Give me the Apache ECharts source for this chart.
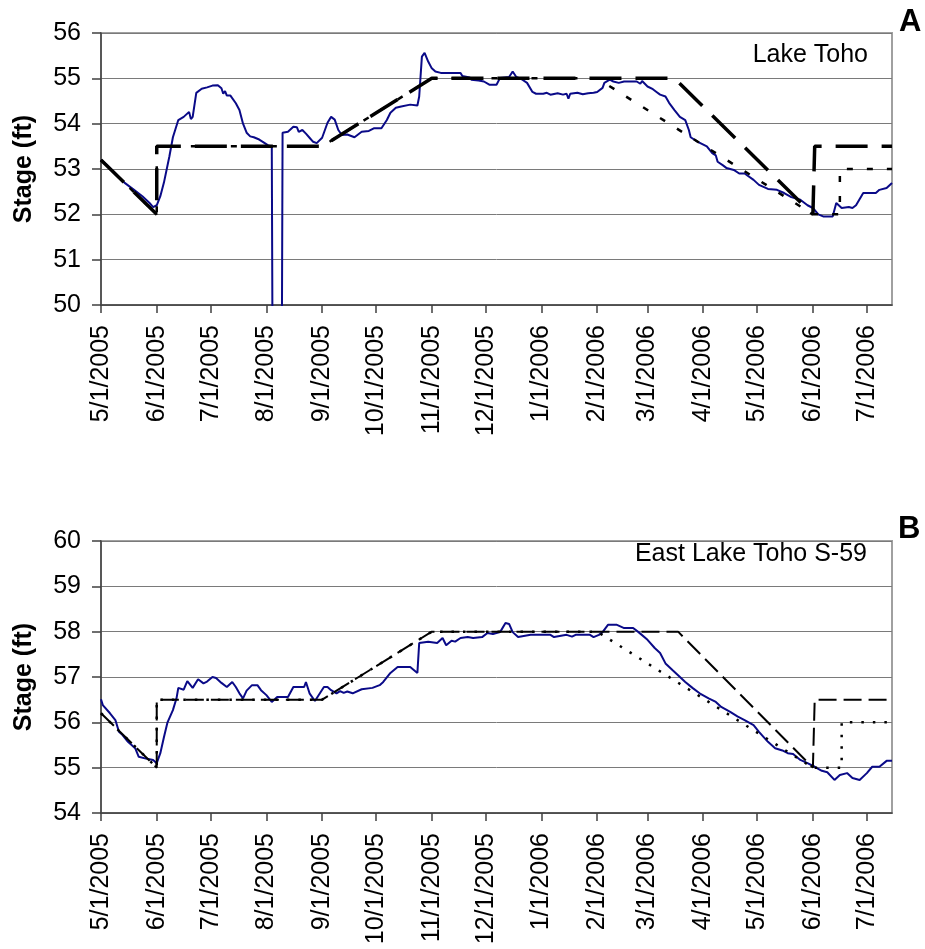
<!DOCTYPE html>
<html>
<head>
<meta charset="utf-8">
<title>Lake stage, May 2005 - July 2006</title>
<script src="https://cdn.jsdelivr.net/npm/echarts@6/dist/echarts.min.js"></script>
<style>
  html, body { margin: 0; padding: 0; background: #fff; }
  #chart { width: 925px; height: 949px; }
</style>
</head>
<body>
<div id="chart"></div>
<script>
// Month-start tick labels shared by both panels
const tickLabels = ['5/1/2005', '6/1/2005', '7/1/2005', '8/1/2005', '9/1/2005', '10/1/2005',
  '11/1/2005', '12/1/2005', '1/1/2006', '2/1/2006', '3/1/2006', '4/1/2006', '5/1/2006',
  '6/1/2006', '7/1/2006'];
const axisStartDate = '5/1/2005';
const axisEndDate = '7/15/2006';

// Panel A - Lake Toho observed stage, [day since 5/1/2005, stage ft]
const tohoObserved = [
  [0, 53.2], [3, 53.1], [8, 52.9], [13, 52.7], [18, 52.55], [23, 52.4], [27, 52.25], [29, 52.16],
  [31, 52.2], [33, 52.4], [35, 52.7], [38, 53.27], [40, 53.7], [43, 54.08], [46, 54.15], [49, 54.26],
  [50, 54.1], [51, 54.15], [53, 54.68], [56, 54.77], [59, 54.8], [62, 54.84], [65, 54.85], [67, 54.78],
  [68, 54.66], [69, 54.72], [70, 54.62], [72, 54.62], [75, 54.45], [77, 54.3], [79, 54.0], [81, 53.8],
  [83, 53.72], [85, 53.7], [88, 53.65], [90, 53.6], [93, 53.52], [95, 53.5], [95.5, 48], [100.5, 48],
  [101, 53.8], [104, 53.82], [107, 53.93], [109, 53.92], [110, 53.82], [112, 53.86], [114, 53.78],
  [116, 53.69], [118, 53.6], [119, 53.62], [120, 53.57], [123, 53.69], [126, 54.02], [128, 54.15],
  [130, 54.09], [132, 53.86], [134, 53.75], [137, 53.76], [141, 53.7], [145, 53.82], [149, 53.84],
  [152, 53.9], [156, 53.9], [159, 54.08], [161, 54.24], [164, 54.35], [167, 54.38], [172, 54.42],
  [176, 54.4], [177, 54.6], [178.5, 55.48], [180, 55.56], [182, 55.37], [184, 55.22], [186, 55.15],
  [189, 55.12], [200, 55.12], [201, 55.05], [205, 55.02], [206, 54.97], [210, 54.95], [213, 54.93],
  [216, 54.86], [220, 54.86], [222, 55.01], [227, 55.03], [229, 55.15], [231, 55.03], [234, 54.98],
  [237, 54.9], [240, 54.7], [242, 54.66], [246, 54.66], [248, 54.68], [250, 54.64], [254, 54.67],
  [257, 54.64], [259, 54.66], [260, 54.55], [261, 54.66], [265, 54.68], [268, 54.65], [271, 54.67],
  [274, 54.68], [276, 54.7], [279, 54.79], [280, 54.9], [283, 54.97], [285, 54.93], [288, 54.9],
  [291, 54.93], [295, 54.93], [298, 54.93], [300, 54.88], [301, 54.94], [304, 54.82], [307, 54.76],
  [309, 54.7], [311, 54.64], [314, 54.6], [316, 54.46], [319, 54.3], [322, 54.15], [325, 54.08],
  [327, 53.86], [328, 53.7], [332, 53.6], [337, 53.5], [340, 53.35], [342, 53.3], [343, 53.16],
  [346, 53.08], [348, 53.02], [352, 52.98], [355, 52.9], [358, 52.9], [363, 52.76], [366, 52.65],
  [371, 52.56], [376, 52.54], [380, 52.47], [384, 52.38], [389, 52.32], [393, 52.2], [396, 52.14],
  [399, 52.0], [402, 51.95], [407, 51.95], [409, 52.25], [412, 52.14], [416, 52.16], [418, 52.14],
  [420, 52.2], [424, 52.47], [431, 52.47], [433, 52.54], [437, 52.58], [440, 52.69]
];
// Panel A - schedule breakpoints [date, stage ft]
const tohoRegulation = [
  ['5/1/2005', 53.2], ['6/1/2005', 52.0], ['6/1/2005', 53.5], ['9/1/2005', 53.5], ['11/1/2005', 55.0],
  ['3/16/2006', 55.0], ['6/1/2006', 52.0], ['6/2/2006', 53.5], ['7/15/2006', 53.5]
];
const tohoInterim = [
  ['5/1/2005', 53.2], ['6/1/2005', 52.0], ['6/1/2005', 53.5], ['9/1/2005', 53.5], ['11/1/2005', 55.0],
  ['2/1/2006', 55.0], ['6/1/2006', 52.0], ['6/16/2006', 52.0], ['6/16/2006', 53.0], ['7/15/2006', 53.0]
];

// Panel B - East Lake Toho S-59 observed stage, [day since 5/1/2005, stage ft]
const eastObserved = [
  [0, 56.51], [1, 56.38], [5, 56.2], [8, 56.05], [10, 55.79], [12, 55.72], [15, 55.57], [19, 55.43],
  [21, 55.24], [25, 55.2], [29, 55.17], [31, 55.1], [33, 55.32], [35, 55.67], [37, 56.0], [40, 56.27],
  [42, 56.53], [43, 56.76], [44, 56.78], [46, 56.72], [48, 56.91], [51, 56.76], [54, 56.95], [57, 56.86],
  [59, 56.9], [62, 57.0], [64, 56.98], [67, 56.87], [70, 56.78], [73, 56.89], [75, 56.78], [77, 56.64],
  [79, 56.53], [81, 56.7], [82, 56.68], [84, 56.82], [87, 56.82], [89, 56.71], [92, 56.6], [95, 56.45],
  [98, 56.56], [104, 56.56], [107, 56.78], [113, 56.78], [114, 56.89], [116, 56.64], [119, 56.47],
  [124, 56.78], [126, 56.78], [128, 56.71], [131, 56.64], [133, 56.69], [135, 56.65], [137, 56.68],
  [140, 56.64], [145, 56.73], [151, 56.76], [155, 56.82], [157, 56.89], [161, 57.09], [165, 57.22],
  [172, 57.22], [176, 57.09], [177, 57.75], [178, 57.78], [182, 57.78], [187, 57.75], [190, 57.86],
  [192, 57.7], [195, 57.8], [197, 57.78], [200, 57.86], [204, 57.88], [207, 57.86], [212, 57.88],
  [215, 57.97], [218, 57.95], [222, 57.99], [225, 58.19], [227, 58.17], [229, 57.99], [232, 57.88],
  [239, 57.93], [250, 57.93], [252, 57.88], [259, 57.93], [262, 57.89], [264, 57.93], [272, 57.93],
  [274, 57.88], [277, 57.93], [279, 57.99], [282, 58.15], [287, 58.15], [291, 58.08], [296, 58.08],
  [299, 57.99], [304, 57.82], [308, 57.64], [311, 57.53], [314, 57.3], [318, 57.15], [321, 57.04],
  [325, 56.89], [329, 56.76], [333, 56.64], [338, 56.53], [342, 56.45], [345, 56.34], [350, 56.23],
  [354, 56.13], [358, 56.05], [363, 55.94], [366, 55.79], [371, 55.57], [375, 55.43], [379, 55.38],
  [382, 55.32], [385, 55.3], [389, 55.17], [393, 55.1], [397, 55.02], [401, 54.93], [404, 54.9],
  [408, 54.73], [411, 54.84], [415, 54.88], [418, 54.77], [422, 54.73], [426, 54.88], [429, 55.02],
  [433, 55.02], [437, 55.15], [440, 55.15]
];
// Panel B - schedule breakpoints [date, stage ft]
const eastRegulation = [
  ['5/1/2005', 56.2], ['6/1/2005', 55.0], ['6/1/2005', 56.5], ['9/1/2005', 56.5], ['11/1/2005', 58.0],
  ['3/18/2006', 58.0], ['6/1/2006', 55.0], ['6/2/2006', 56.5], ['7/15/2006', 56.5]
];
const eastInterim = [
  ['5/1/2005', 56.2], ['6/1/2005', 55.0], ['6/1/2005', 56.5], ['9/1/2005', 56.5], ['11/1/2005', 58.0],
  ['2/1/2006', 58.0], ['6/1/2006', 55.0], ['6/17/2006', 55.0], ['6/17/2006', 56.0], ['7/15/2006', 56.0]
];

const FONT = "'Liberation Sans', Arial, Helvetica, sans-serif";

// dates are placed on a day-count value axis starting at 5/1/2005
function dayOf(label) {
  const [m, d, y] = label.split('/').map(Number);
  const [m0, d0, y0] = axisStartDate.split('/').map(Number);
  return Math.round((Date.UTC(y, m - 1, d) - Date.UTC(y0, m0 - 1, d0)) / 86400000);
}
const tickDays = tickLabels.map(dayOf);
const labelByDay = {};
tickDays.forEach((d, i) => { labelByDay[d] = tickLabels[i]; });
const toPoints = rows => rows.map(([date, v]) => [dayOf(date), v]);

function xAxisFor(gridIndex) {
  return {
    type: 'value', gridIndex, min: 0, max: dayOf(axisEndDate),
    axisLine: { show: true, lineStyle: { color: '#404040', width: 1.5 } },
    axisTick: { show: true, customValues: tickDays, length: 8, inside: false,
      lineStyle: { color: '#404040', width: 1.5 } },
    axisLabel: { customValues: tickDays, rotate: 90, margin: 20, fontSize: 25, fontFamily: FONT,
      color: '#000', formatter: v => labelByDay[Math.round(v)] || '' },
    splitLine: { show: false }
  };
}
function yAxisFor(gridIndex, min, max) {
  return {
    type: 'value', gridIndex, min, max, interval: 1,
    name: 'Stage (ft)', nameLocation: 'middle', nameGap: 64, nameRotate: 90,
    nameTextStyle: { fontSize: 25, fontWeight: 'bold', fontFamily: FONT, color: '#000' },
    axisLine: { show: true, lineStyle: { color: '#404040', width: 1.5 } },
    axisTick: { show: true, length: 9, inside: false, lineStyle: { color: '#404040', width: 1.5 } },
    axisLabel: { margin: 20, fontSize: 25, fontFamily: FONT, color: '#000' },
    splitLine: { show: true, lineStyle: { color: '#7a7a7a', width: 1 } }
  };
}
function observed(idx, data) {
  return { type: 'line', xAxisIndex: idx, yAxisIndex: idx, data, showSymbol: false, symbol: 'none',
    lineStyle: { color: '#0a0a88', width: 2 }, z: 2 };
}
function schedule(idx, data, width, dash) {
  return { type: 'line', xAxisIndex: idx, yAxisIndex: idx, data: toPoints(data), showSymbol: false,
    symbol: 'none', lineStyle: { color: '#000', width, type: dash }, z: 3 };
}

const chart = echarts.init(document.getElementById('chart'));
chart.setOption({
  animation: false,
  backgroundColor: '#fff',
  grid: [
    { left: 101, right: 33, top: 33, height: 272, show: true, borderColor: '#a0a0a0', borderWidth: 2 },
    { left: 101, right: 33, top: 541, height: 272, show: true, borderColor: '#a0a0a0', borderWidth: 2 }
  ],
  xAxis: [xAxisFor(0), xAxisFor(1)],
  yAxis: [yAxisFor(0, 50, 56), yAxisFor(1, 54, 60)],
  series: [
    observed(0, tohoObserved),
    schedule(0, tohoRegulation, 3.5, [32, 14]),
    schedule(0, tohoInterim, 2.5, [6, 14]),
    observed(1, eastObserved),
    schedule(1, eastRegulation, 2, [18, 7]),
    schedule(1, eastInterim, 2.5, [2.5, 9])
  ],
  graphic: [
    { type: 'text', right: 57, top: 43, style: { text: 'Lake Toho', font: '25px ' + FONT, fill: '#000' } },
    { type: 'text', right: 58, top: 542, style: { text: 'East Lake Toho S-59', font: '25px ' + FONT, fill: '#000' } },
    { type: 'text', left: 899, top: 7, style: { text: 'A', font: 'bold 31px ' + FONT, fill: '#000' } },
    { type: 'text', left: 898, top: 514, style: { text: 'B', font: 'bold 31px ' + FONT, fill: '#000' } }
  ]
});
</script>
</body>
</html>
